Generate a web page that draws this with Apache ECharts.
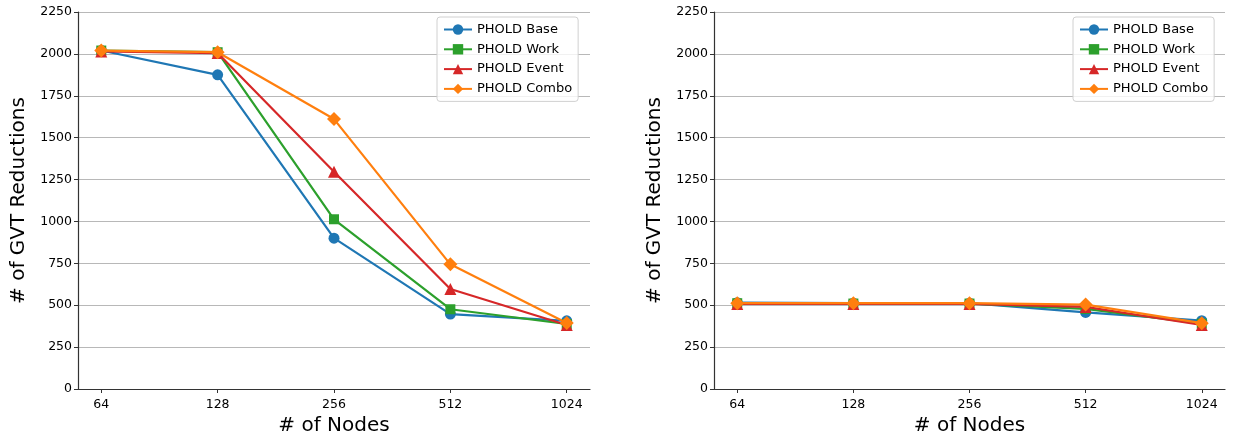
<!DOCTYPE html>
<html>
<head>
<meta charset="utf-8">
<script src="https://cdn.jsdelivr.net/npm/echarts@6/dist/echarts.min.js"></script>
<style>
  html, body { margin: 0; padding: 0; background: #fff; }
  #chart { width: 1233px; height: 441px; }
</style>
</head>
<body>
<div id="chart"></div>
<script>
// Node counts along the x axis
const nodes = ['64', '128', '256', '512', '1024'];
const seriesNames = ['PHOLD Base', 'PHOLD Work', 'PHOLD Event', 'PHOLD Combo'];

// Left panel: GVT reductions per configuration
const leftBase  = [2020, 1875, 900, 447, 407];
const leftWork  = [2020, 2010, 1013, 476, 388];
const leftEvent = [2015, 2005, 1297, 597, 382];
const leftCombo = [2020, 2010, 1611, 744, 394];

// Right panel: GVT reductions per configuration
const rightBase  = [515, 512, 512, 457, 408];
const rightWork  = [512, 510, 510, 478, 390];
const rightEvent = [508, 508, 508, 490, 382];
const rightCombo = [512, 512, 512, 504, 393];

const colors = ['#1f77b4', '#2ca02c', '#d62728', '#ff7f0e'];
const symbols = ['circle', 'rect', 'triangle', 'diamond'];
const symbolSizes = [11, 10, 12, 14];
const FONT = 'DejaVu Sans';

const chart = echarts.init(document.getElementById('chart'));

function xAxisFor(gridIndex) {
  return {
    type: 'value', gridIndex, min: -0.2, max: 4.2,
    name: '# of Nodes', nameLocation: 'middle', nameGap: 26,
    nameTextStyle: { fontFamily: FONT, fontSize: 20, color: '#000' },
    axisLine: { show: true, onZero: false, lineStyle: { color: '#333', width: 1.2 } },
    axisTick: { show: true, length: 4, lineStyle: { color: '#333' }, customValues: [0, 1, 2, 3, 4] },
    axisLabel: {
      fontFamily: FONT, fontSize: 12.5, color: '#000', margin: 9,
      customValues: [0, 1, 2, 3, 4],
      formatter: v => nodes[Math.round(v)]
    },
    splitLine: { show: false }
  };
}

function yAxisFor(gridIndex) {
  return {
    type: 'value', gridIndex, min: 0, max: 2250, interval: 250,
    name: '# of GVT Reductions', nameLocation: 'middle', nameGap: 49,
    nameTextStyle: { fontFamily: FONT, fontSize: 20, color: '#000' },
    axisLine: { show: true, onZero: false, lineStyle: { color: '#333', width: 1.2 } },
    axisTick: { show: true, length: 4, lineStyle: { color: '#333' } },
    axisLabel: { fontFamily: FONT, fontSize: 12.5, color: '#000', margin: 6,
      formatter: v => String(v) },
    splitLine: { show: true, lineStyle: { color: '#b8b8b8', width: 1 } }
  };
}

function makeSeries(values, idx, gridIdx) {
  return {
    name: seriesNames[idx], type: 'line',
    xAxisIndex: gridIdx, yAxisIndex: gridIdx,
    data: values.map((v, i) => [i, v]),
    symbol: symbols[idx], symbolSize: symbolSizes[idx],
    lineStyle: { color: colors[idx], width: 2.2 },
    itemStyle: { color: colors[idx] },
    z: 2 + idx, animation: false
  };
}

function legendFor(left) {
  return {
    data: seriesNames, orient: 'vertical', left, top: 17,
    itemWidth: 28, itemHeight: 13, itemGap: 6.8,
    padding: [6, 6, 6, 6],
    backgroundColor: 'rgba(255,255,255,0.8)',
    borderColor: '#d0d0d0', borderWidth: 1, borderRadius: 3,
    textStyle: { fontFamily: FONT, fontSize: 13, color: '#000' }
  };
}

const leftSets = [leftBase, leftWork, leftEvent, leftCombo];
const rightSets = [rightBase, rightWork, rightEvent, rightCombo];

chart.setOption({
  backgroundColor: '#fff',
  color: colors,
  animation: false,
  grid: [
    { left: 78, right: 643, top: 12, bottom: 52 },
    { left: 714, right: 8, top: 12, bottom: 52 }
  ],
  legend: [legendFor(437), legendFor(1073)],
  xAxis: [xAxisFor(0), xAxisFor(1)],
  yAxis: [yAxisFor(0), yAxisFor(1)],
  series: [
    ...leftSets.map((d, i) => makeSeries(d, i, 0)),
    ...rightSets.map((d, i) => makeSeries(d, i, 1))
  ]
});
</script>
</body>
</html>
